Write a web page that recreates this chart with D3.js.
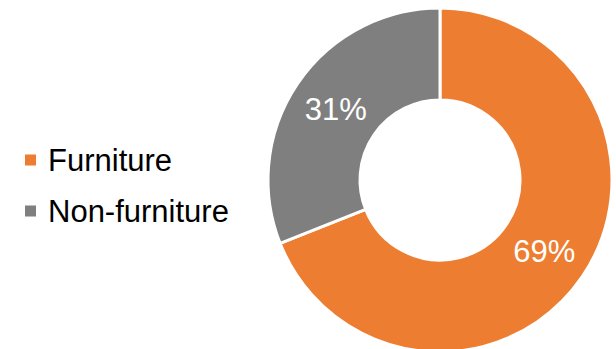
<!DOCTYPE html>
<html>
<head>
<meta charset="utf-8">
<script src="https://cdn.jsdelivr.net/npm/d3@7"></script>
<style>
  html, body { margin: 0; padding: 0; background: #fff; }
  svg { display: block; font-family: "Liberation Sans", Arial, sans-serif; }
</style>
</head>
<body>
<svg id="chart" width="616" height="349"></svg>
<script>
// Share of sales by category
const categories = ["Furniture", "Non-furniture"];
const shares = [69, 31];
const colors = ["#ED7D31", "#7F7F7F"];

const svg = d3.select("#chart");
const cx = 440, cy = 180, outerR = 172, innerR = 80;

const color = d3.scaleOrdinal().domain(categories).range(colors);

const pie = d3.pie().sort(null).value(d => d.value);
const data = categories.map((c, i) => ({ name: c, value: shares[i] }));
const arcs = pie(data);

const arc = d3.arc().innerRadius(innerR).outerRadius(outerR);

const g = svg.append("g").attr("transform", `translate(${cx},${cy})`);

g.selectAll("path.slice")
  .data(arcs)
  .join("path")
  .attr("class", "slice")
  .attr("d", arc)
  .attr("fill", d => color(d.data.name))
  .attr("stroke", "#fff")
  .attr("stroke-width", 3);

g.selectAll("text.pct")
  .data(arcs)
  .join("text")
  .attr("class", "pct")
  .attr("transform", d => `translate(${arc.centroid(d)})`)
  .attr("text-anchor", "middle")
  .attr("dy", "0.36em")
  .attr("font-size", 31)
  .attr("fill", "#fff")
  .text(d => d.data.value + "%");

// Legend
const legend = svg.append("g").attr("transform", "translate(24,160)");
const rows = legend.selectAll("g.row")
  .data(categories)
  .join("g")
  .attr("class", "row")
  .attr("transform", (d, i) => `translate(0,${i * 51})`);

rows.append("rect")
  .attr("x", 1).attr("y", -5.5)
  .attr("width", 11).attr("height", 11)
  .attr("fill", d => color(d));

rows.append("text")
  .attr("x", 24)
  .attr("y", 11)
  .attr("font-size", 31)
  .attr("fill", "#000")
  .text(d => d);
</script>
</body>
</html>
